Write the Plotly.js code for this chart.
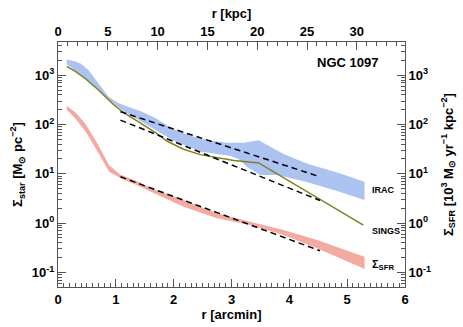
<!DOCTYPE html>
<html>
<head>
<meta charset="utf-8">
<script src="https://cdn.plot.ly/plotly-3.0.1.min.js"></script>
<style>html,body{margin:0;padding:0;background:#fff;}#chart{width:463px;height:327px;}</style>
</head>
<body>
<div id="chart"></div>
<script>
// ---- data (r in arcmin) ----
const iracUpperR   = [0.15, 0.30, 0.39, 0.53, 0.70, 0.88, 1.05, 1.28, 1.45, 1.68, 2.00, 2.35, 2.60, 2.92, 3.21, 3.47, 3.90, 4.30, 4.88, 5.30];
const iracUpper    = [2089, 1905, 1738, 1259, 676, 363, 269, 214, 182, 135, 80, 56.2, 47.9, 42.7, 42.7, 47.9, 25.1, 16.2, 10.2, 6.9];
const iracLowerR   = [0.15, 0.53, 0.88, 1.11, 1.40, 1.68, 2.00, 2.46, 2.98, 3.12, 3.27, 3.50, 3.80, 4.30, 4.88, 5.30];
const iracLower    = [1660, 794, 331, 195, 123, 77.6, 46.8, 28.2, 22.9, 20.0, 13.8, 9.5, 9.5, 6.8, 4.3, 2.95];

const singsR       = [0.15, 0.30, 0.475, 0.70, 0.94, 1.11, 1.40, 1.68, 1.89, 2.17, 2.46, 2.75, 3.04, 3.47, 3.90, 4.30, 4.80, 5.28];
const sings        = [1514, 1202, 851, 501, 269, 182, 112, 69.2, 45.7, 31.6, 24.5, 21.4, 18.6, 16.6, 8.3, 4.37, 2.0, 0.91];

const sfrR         = [0.15, 0.30, 0.47, 0.70, 0.88, 1.08, 1.35, 1.60, 2.17, 2.75, 3.32, 3.90, 4.48, 5.30];
const sfrUpper     = [240, 178, 105, 38, 15.1, 9.55, 7.24, 5.13, 2.95, 1.58, 1.07, 0.724, 0.457, 0.209];
const sfrLower     = [200, 132, 74.1, 26.3, 11.2, 8.13, 6.03, 4.37, 2.14, 1.26, 0.912, 0.575, 0.309, 0.117];

const fitR         = [1.08, 4.53];
const iracFit      = [182, 8.7];
const singsFit     = [123, 2.88];
const sfrFit       = [8.7, 0.275];

const kpcPerArcmin = 5.806;
const decadeVals   = [0.1, 1, 10, 100, 1000];
const decadeText   = ['10<sup>-1</sup>', '10<sup>0</sup>', '10<sup>1</sup>', '10<sup>2</sup>', '10<sup>3</sup>'];

// ---- helpers ----
function band(r1, v1, r2, v2) {
  return { x: r1.concat(r2.slice().reverse()), y: v1.concat(v2.slice().reverse()) };
}
const minorLog = [];
[0.01, 0.1, 1, 10, 100, 1000].forEach(d => { for (let k = 2; k <= 9; k++) minorLog.push(d * k); });

const FONT = 'Liberation Sans, Arial, Helvetica, sans-serif';
const AXC = '#555';

const iracBand = band(iracUpperR, iracUpper, iracLowerR, iracLower);
const sfrBand = band(sfrR, sfrUpper, sfrR, sfrLower);

const traces = [
  { x: iracBand.x, y: iracBand.y, fill: 'toself', mode: 'lines', line: { width: 0 }, fillcolor: 'rgb(172,194,240)', hoverinfo: 'skip', showlegend: false },
  { x: sfrBand.x, y: sfrBand.y, fill: 'toself', mode: 'lines', line: { width: 0 }, fillcolor: 'rgb(243,170,160)', hoverinfo: 'skip', showlegend: false },
  { x: singsR, y: sings, mode: 'lines', line: { color: 'rgb(128,128,32)', width: 1.5 }, showlegend: false },
  { x: fitR, y: iracFit, mode: 'lines', line: { color: '#000', width: 1.5, dash: '6px,4px' }, showlegend: false },
  { x: fitR, y: singsFit, mode: 'lines', line: { color: '#000', width: 1.5, dash: '6px,4px' }, showlegend: false },
  { x: fitR, y: sfrFit, mode: 'lines', line: { color: '#000', width: 1.5, dash: '6px,4px' }, showlegend: false },
  { x: [], y: [], xaxis: 'x2', yaxis: 'y', showlegend: false },
  { x: [], y: [], xaxis: 'x', yaxis: 'y2', showlegend: false }
];

const tickFont = { family: FONT, size: 13, color: '#000', weight: 700 };
const titleFont = { family: FONT, size: 13, color: '#000', weight: 700 };

const baseX = {
  showline: true, linecolor: AXC, linewidth: 1, ticks: 'inside', tickcolor: AXC, ticklen: 8, tickwidth: 1,
  showgrid: false, zeroline: false, tickfont: tickFont, fixedrange: true
};
const baseY = {
  type: 'log', range: [-1.296, 3.674], showline: true, linecolor: AXC, linewidth: 1, ticks: 'inside',
  tickcolor: AXC, ticklen: 8, tickwidth: 1, showgrid: false, zeroline: false, tickfont: tickFont,
  tickmode: 'array', tickvals: decadeVals, ticktext: decadeText,
  minor: { tickmode: 'array', tickvals: minorLog, ticks: 'inside', ticklen: 4, tickcolor: AXC, showgrid: false },
  fixedrange: true
};

const layout = {
  width: 463, height: 327,
  margin: { l: 58, r: 58, t: 42, b: 40, pad: 0 },
  paper_bgcolor: '#fff', plot_bgcolor: '#fff',
  font: { family: FONT, color: '#000' },
  xaxis: Object.assign({}, baseX, {
    range: [0, 6], side: 'bottom', anchor: 'y', tick0: 0, dtick: 1,
    minor: { dtick: 0.1, ticks: 'inside', ticklen: 4, tickcolor: AXC, showgrid: false },
    title: { text: 'r [arcmin]', font: titleFont, standoff: 2 }
  }),
  xaxis2: Object.assign({}, baseX, {
    range: [0, 6 * kpcPerArcmin], side: 'top', overlaying: 'x', anchor: 'y', tick0: 0, dtick: 5,
    minor: { dtick: 1, ticks: 'inside', ticklen: 4, tickcolor: AXC, showgrid: false },
    title: { text: 'r [kpc]', font: titleFont, standoff: 2 }
  }),
  yaxis: Object.assign({}, baseY, {
    side: 'left', anchor: 'x',
    title: { text: 'Σ<sub>star</sub> [M<sub>⊙</sub> pc<sup>−2</sup>]', font: titleFont, standoff: 6 }
  }),
  yaxis2: Object.assign({}, baseY, {
    side: 'right', overlaying: 'y', anchor: 'x',
    title: { text: 'Σ<sub>SFR</sub> [10<sup>3</sup> M<sub>⊙</sub> yr<sup>−1</sup> kpc<sup>−2</sup>]', font: titleFont, standoff: 13 }
  }),
  annotations: [
    { xref: 'paper', yref: 'paper', x: 0.928, y: 0.917, xanchor: 'right', yanchor: 'middle', showarrow: false,
      text: 'NGC 1097', font: { family: FONT, size: 13, weight: 700, color: '#000' } },
    { xref: 'paper', yref: 'paper', x: 0.899, y: 0.396, xanchor: 'left', yanchor: 'middle', showarrow: false,
      text: 'IRAC', font: { family: FONT, size: 9, weight: 700, color: '#000' } },
    { xref: 'paper', yref: 'paper', x: 0.899, y: 0.229, xanchor: 'left', yanchor: 'middle', showarrow: false,
      text: 'SINGS', font: { family: FONT, size: 9, weight: 700, color: '#000' } },
    { xref: 'paper', yref: 'paper', x: 0.899, y: 0.091, xanchor: 'left', yanchor: 'middle', showarrow: false,
      text: 'Σ<sub>SFR</sub>', font: { family: FONT, size: 11, weight: 700, color: '#000' } }
  ]
};

Plotly.newPlot('chart', traces, layout, { staticPlot: true, displayModeBar: false });
</script>
</body>
</html>
